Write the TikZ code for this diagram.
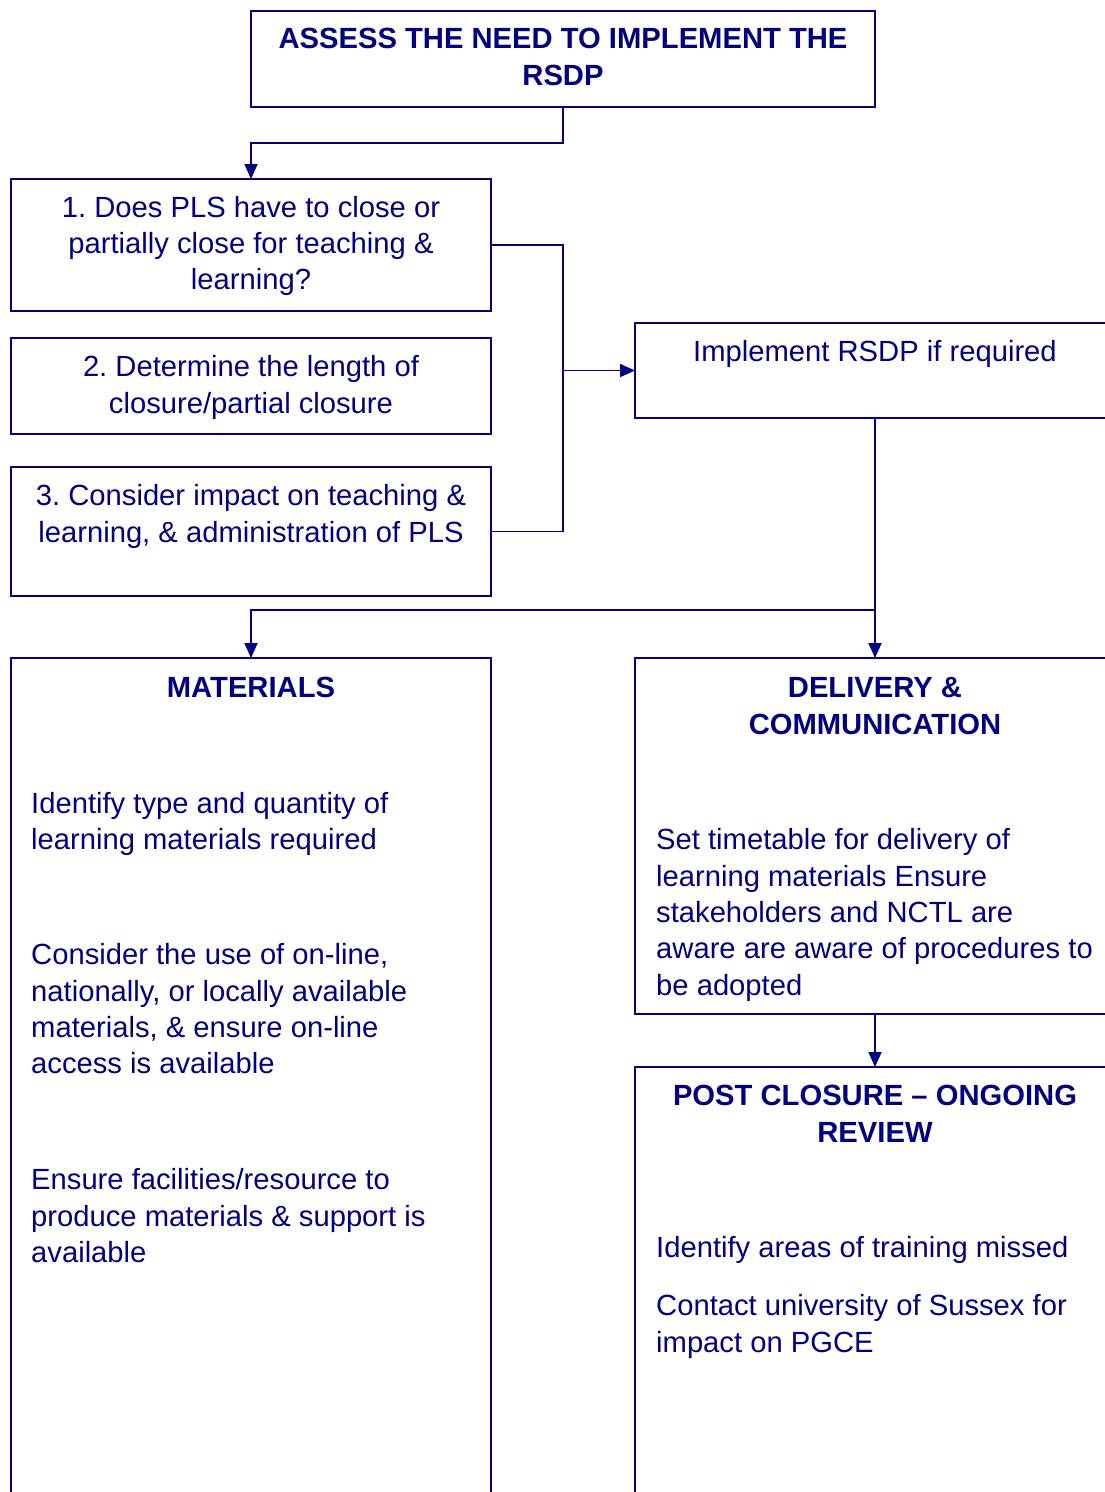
\documentclass[tikz,border=0pt]{standalone}
\usepackage{fontspec}
\setmainfont{Liberation Sans}
\usetikzlibrary{arrows.meta}
\definecolor{navy}{RGB}{0,0,128}
\frenchspacing
\begin{document}
\begin{tikzpicture}[x=1pt,y=-1pt,
  box/.style={draw=navy, line width=1.8pt, rectangle, inner sep=0pt, outer sep=0pt, anchor=north west},
  txt/.style={inner sep=0pt, text=navy, font=\fontsize{29.2}{36.4}\selectfont},
  ctxt/.style={txt, align=center, anchor=north},
  ltxt/.style={txt, align=left, anchor=north west},
  conn/.style={draw=navy, line width=1.8pt},
  arr/.style={conn, -{Triangle[length=15pt,width=13pt]}}]
\useasboundingbox (0,0) rectangle (1105,1492);
\clip (0,0) rectangle (1105,1492);
\fill[white] (0,0) rectangle (1105,1492);
% boxes
\node[box, minimum width=624pt, minimum height=96pt] (top) at (251,11) {};
\node[box, minimum width=480pt, minimum height=132pt] (b1) at (11,179) {};
\node[box, minimum width=480pt, minimum height=96pt] (b2) at (11,338) {};
\node[box, minimum width=480pt, minimum height=129pt] (b3) at (11,467) {};
\node[box, minimum width=480pt, minimum height=95pt] (impl) at (635,323) {};
\node[box, minimum width=480pt, minimum height=900pt] (mat) at (11,658) {};
\node[box, minimum width=480pt, minimum height=356pt] (del) at (635,658) {};
\node[box, minimum width=480pt, minimum height=600pt] (post) at (635,1067) {};
% texts
\node[ctxt] (ttop) at (563,22.95) {\strut\bfseries ASSESS THE NEED TO IMPLEMENT THE\\\bfseries RSDP};
\node[ctxt] (tb1) at (251,191.45) {\strut 1. Does PLS have to close or\\partially close for teaching \&\\learning?};
\node[ctxt] (tb2) at (251,350.95) {\strut 2. Determine the length of\\closure/partial closure};
\node[ctxt] (tb3) at (251,479.95) {\strut 3. Consider impact on teaching \&\\learning, \& administration of PLS};
\node[ctxt] (timpl) at (875,335.95) {\strut Implement RSDP if required};
\node[ctxt] (tmat) at (251,671.95) {\strut\bfseries MATERIALS};
\node[ltxt] (tm1) at (31,787.45) {\strut Identify type and quantity of\\learning materials required};
\node[ltxt] (tm2) at (31,938.95) {\strut Consider the use of on-line,\\nationally, or locally available\\materials, \& ensure on-line\\access is available};
\node[ltxt] (tm3) at (31,1163.95) {\strut Ensure facilities/resource to\\produce materials \& support is\\available};
\node[ctxt] (tdel) at (875,671.95) {\strut\bfseries DELIVERY \&\\\bfseries COMMUNICATION};
\node[ltxt] (td1) at (656,823.95) {\strut Set timetable for delivery of\\learning materials Ensure\\stakeholders and NCTL are\\aware are aware of procedures to\\be adopted};
\node[ctxt] (tpost) at (875,1079.95) {\strut\bfseries POST CLOSURE -- ONGOING\\\bfseries REVIEW};
\node[ltxt] (tp1) at (656,1231.95) {\strut Identify areas of training missed};
\node[ltxt] (tp2) at (656,1289.95) {\strut Contact university of Sussex for\\impact on PGCE};
% connectors
\coordinate (join) at (563,370.5);
\coordinate (split) at (875,610);
\draw[arr] (top.south) -- ++(0,36) -| (b1.north);
\draw[conn] (b1.east) -| (join) |- (b3.east);
\draw[arr] (join) -- (join -| impl.west);
\draw[arr] (impl.south) -- (del.north);
\draw[arr] (split) -| (mat.north);
\draw[arr] (del.south) -- (post.north);
\end{tikzpicture}
\end{document}
